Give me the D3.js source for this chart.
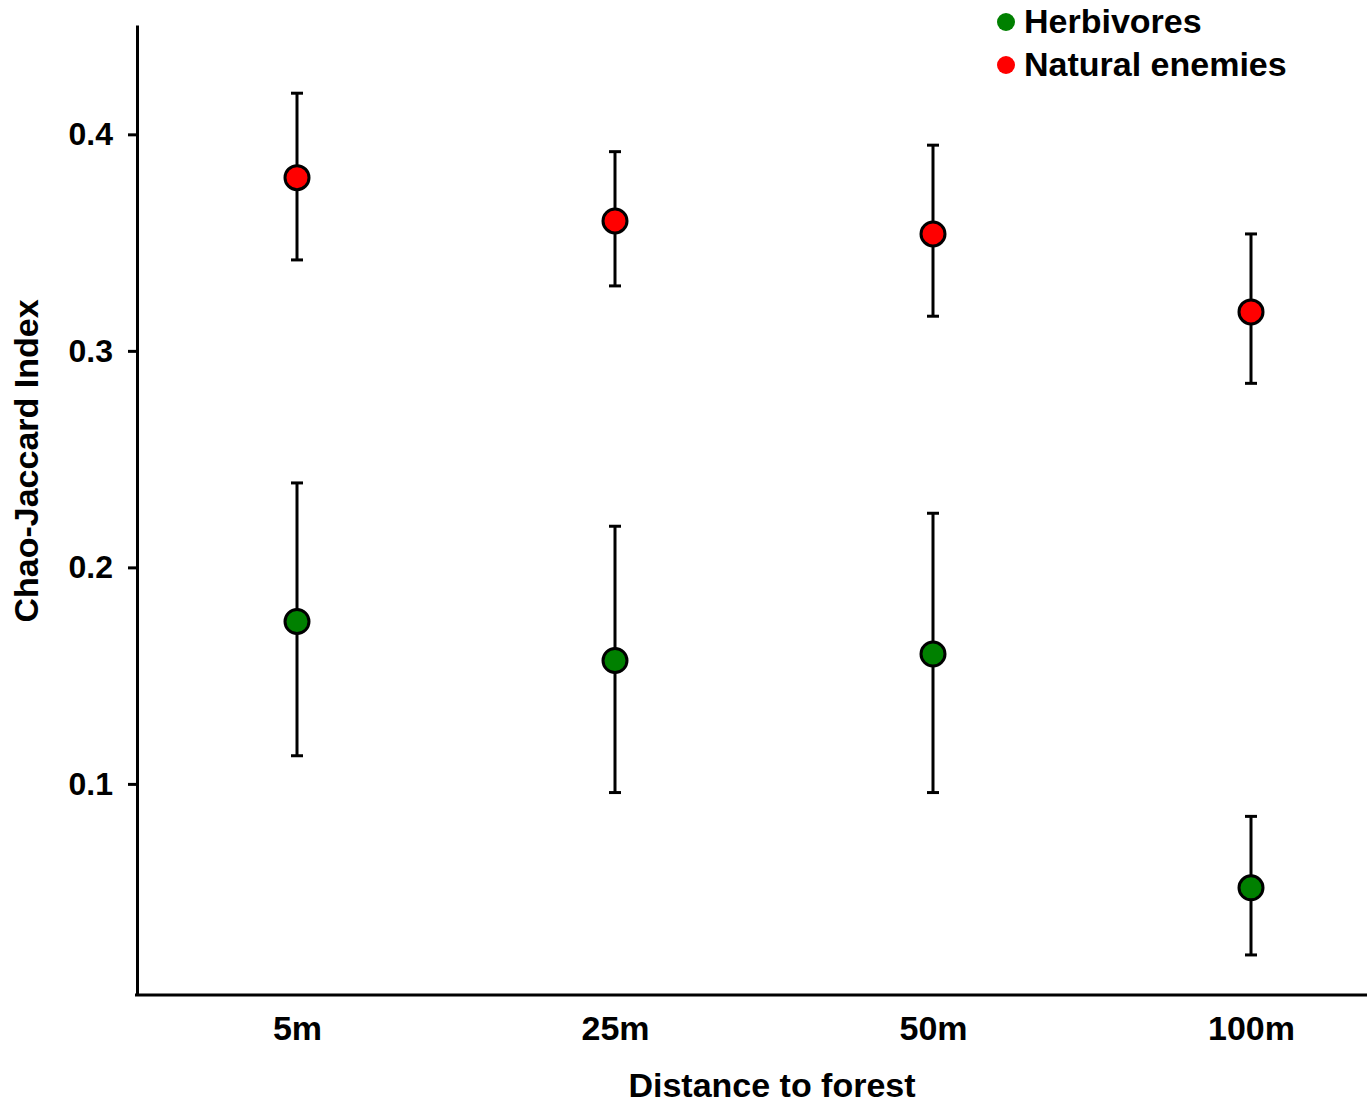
<!DOCTYPE html>
<html>
<head>
<meta charset="utf-8">
<script src="https://cdn.jsdelivr.net/npm/d3@7"></script>
<style>
    body { margin: 0; background: #fff; }
    text { font-family: "Liberation Sans", Arial, sans-serif; font-weight: bold; }
</style>
</head>
<body>
<svg width="1372" height="1105"></svg>
<script>
    var distances = ["5m", "25m", "50m", "100m"];
    var yTicks = [0.1, 0.2, 0.3, 0.4];

    // Natural enemies: mean, upper, lower
    var enemyMean = [0.380, 0.360, 0.354, 0.318];
    var enemyHigh = [0.419, 0.392, 0.395, 0.354];
    var enemyLow = [0.342, 0.330, 0.316, 0.285];

    // Herbivores: mean, upper, lower
    var herbMean = [0.175, 0.157, 0.160, 0.052];
    var herbHigh = [0.239, 0.219, 0.225, 0.085];
    var herbLow = [0.113, 0.096, 0.096, 0.021];

    var seriesNames = ["Herbivores", "Natural enemies"];
    var seriesColors = ["#008000", "#ff0000"];

    var svg = d3.select("svg");

    var x = d3.scalePoint()
        .domain(distances)
        .range([297, 1251]);

    var y = d3.scaleLinear()
        .domain([0.0025, 0.4505])
        .range([995, 25]);

    // y axis
    var yAxis = svg.append("g")
        .attr("transform", "translate(137,0)")
        .call(d3.axisLeft(y).tickValues(yTicks).tickFormat(d3.format(".1f")).tickSize(9).tickSizeOuter(0));
    yAxis.select(".domain").attr("stroke-width", 3);
    yAxis.selectAll(".tick line").attr("stroke-width", 3);
    yAxis.selectAll(".tick text")
        .attr("x", -24)
        .attr("font-size", 32)
        .attr("font-family", "Liberation Sans, Arial, sans-serif")
        .attr("fill", "#000");

    // x axis
    svg.append("line")
        .attr("x1", 135).attr("x2", 1367)
        .attr("y1", 995).attr("y2", 995)
        .attr("stroke", "#000")
        .attr("stroke-width", 3);

    var xAxis = svg.append("g")
        .attr("transform", "translate(0,995)")
        .call(d3.axisBottom(x).tickSize(0));
    xAxis.select(".domain").remove();
    xAxis.selectAll(".tick text")
        .attr("y", 45)
        .attr("dy", 0)
        .attr("font-size", 34)
        .attr("font-family", "Liberation Sans, Arial, sans-serif")
        .attr("fill", "#000");

    // axis titles
    svg.append("text")
        .attr("x", 772)
        .attr("y", 1097)
        .attr("text-anchor", "middle")
        .attr("font-size", 34)
        .text("Distance to forest");

    svg.append("text")
        .attr("transform", "translate(38,461) rotate(-90)")
        .attr("text-anchor", "middle")
        .attr("font-size", 34)
        .text("Chao-Jaccard Index");

    function drawSeries(mean, high, low, color) {
        var data = distances.map(function (d, i) {
            return {cat: d, mean: mean[i], high: high[i], low: low[i]};
        });
        var g = svg.append("g");
        var bars = g.selectAll("g.bar")
            .data(data)
            .enter().append("g")
            .attr("class", "bar");

        bars.append("line")
            .attr("x1", function (d) { return x(d.cat); })
            .attr("x2", function (d) { return x(d.cat); })
            .attr("y1", function (d) { return y(d.high); })
            .attr("y2", function (d) { return y(d.low); })
            .attr("stroke", "#000")
            .attr("stroke-width", 3);

        bars.selectAll("line.cap")
            .data(function (d) { return [{cat: d.cat, v: d.high}, {cat: d.cat, v: d.low}]; })
            .enter().append("line")
            .attr("class", "cap")
            .attr("x1", function (d) { return x(d.cat) - 6; })
            .attr("x2", function (d) { return x(d.cat) + 6; })
            .attr("y1", function (d) { return y(d.v); })
            .attr("y2", function (d) { return y(d.v); })
            .attr("stroke", "#000")
            .attr("stroke-width", 3);

        bars.append("circle")
            .attr("cx", function (d) { return x(d.cat); })
            .attr("cy", function (d) { return y(d.mean); })
            .attr("r", 12)
            .attr("fill", color)
            .attr("stroke", "#000")
            .attr("stroke-width", 3);
    }

    drawSeries(enemyMean, enemyHigh, enemyLow, seriesColors[1]);
    drawSeries(herbMean, herbHigh, herbLow, seriesColors[0]);

    // legend
    var legend = svg.append("g");
    var legendItems = legend.selectAll("g")
        .data(seriesNames)
        .enter().append("g")
        .attr("transform", function (d, i) { return "translate(1006," + (22 + i * 43) + ")"; });
    legendItems.append("circle")
        .attr("r", 9)
        .attr("fill", function (d, i) { return seriesColors[i]; });
    legendItems.append("text")
        .attr("x", 18)
        .attr("y", 11)
        .attr("font-size", 34)
        .text(function (d) { return d; });
</script>
</body>
</html>
